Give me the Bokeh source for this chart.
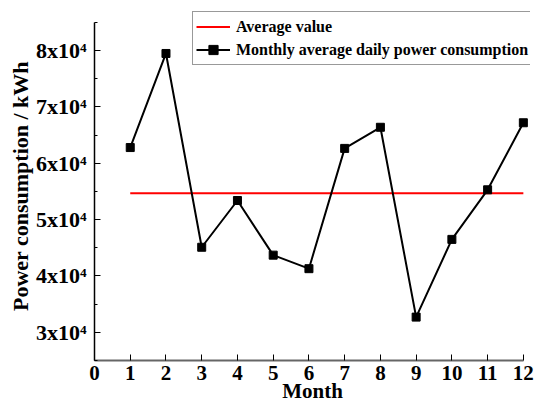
from bokeh.plotting import figure
from bokeh.models import FixedTicker, Legend, LegendItem, Range1d
from bokeh.embed import file_html
from bokeh.resources import INLINE

months = [1, 2, 3, 4, 5, 6, 7, 8, 9, 10, 11, 12]
consumption = [62800, 79500, 45100, 53400, 43700, 41300, 62650, 66400, 32700, 46500, 55300, 67200]
avg_value = 54700
avg_x = [1, 12]
y_ticks = [30000, 40000, 50000, 60000, 70000, 80000]
y_tick_labels = ["3x10\u2074", "4x10\u2074", "5x10\u2074", "6x10\u2074", "7x10\u2074", "8x10\u2074"]
y_minor = [25000, 35000, 45000, 55000, 65000, 75000, 85000]
x_ticks = list(range(0, 13))

FONT = "Liberation Serif"

# frame is a bit larger than the axes so the legend can sit above/right of the axis ends
p = figure(width=535, height=405, x_range=Range1d(0, 12.2), y_range=Range1d(25000, 86950),
           output_backend="svg", toolbar_location=None,
           min_border_left=94, min_border_right=5, min_border_top=11, min_border_bottom=45)
p.outline_line_color = None
p.xgrid.visible = False
p.ygrid.visible = False
p.background_fill_color = "white"
p.border_fill_color = "white"

r_avg = p.line(avg_x, [avg_value, avg_value], line_color="red", line_width=2)
r_line = p.line(months, consumption, line_color="black", line_width=2)
r_pts = p.scatter(months, consumption, marker="square", size=8, fill_color="black", line_color="black")

# x axis
xa = p.xaxis[0]
xa.bounds = (0, 12)
xa.ticker = FixedTicker(ticks=x_ticks)
xa.axis_label = "Month"
xa.axis_label_text_font = FONT
xa.axis_label_text_font_style = "bold"
xa.axis_label_text_font_size = "21px"
xa.axis_label_text_color = "black"
xa.axis_label_standoff = -4
xa.major_label_text_font = FONT
xa.major_label_text_font_style = "bold"
xa.major_label_text_font_size = "21px"
xa.major_label_text_color = "black"
xa.major_label_standoff = 5
xa.major_tick_in = 6
xa.major_tick_out = 0
xa.minor_tick_in = 0
xa.minor_tick_out = 0
xa.axis_line_color = "#666666"
xa.axis_line_width = 2
xa.major_tick_line_color = "black"

# y axis
ya = p.yaxis[0]
ya.bounds = (25000, 85000)
ya.ticker = FixedTicker(ticks=y_ticks, minor_ticks=y_minor)
ya.major_label_overrides = {t: l for t, l in zip(y_ticks, y_tick_labels)}
ya.axis_label = "Power consumption / kWh"
ya.axis_label_text_font = FONT
ya.axis_label_text_font_style = "bold"
ya.axis_label_text_font_size = "22px"
ya.axis_label_text_color = "black"
ya.axis_label_standoff = 0
ya.major_label_text_font = FONT
ya.major_label_text_font_style = "bold"
ya.major_label_text_font_size = "22px"
ya.major_label_text_color = "black"
ya.major_label_standoff = 8
ya.major_tick_in = 6
ya.major_tick_out = 0
ya.minor_tick_in = 3
ya.minor_tick_out = 0
ya.axis_line_color = "black"
ya.axis_line_width = 1.5

legend = Legend(items=[
    LegendItem(label="Average value", renderers=[r_avg]),
    LegendItem(label="Monthly average daily power consumption", renderers=[r_line, r_pts]),
], location=(98, 295))
legend.label_text_font = FONT
legend.label_text_font_style = "bold"
legend.label_text_font_size = "16px"
legend.label_text_color = "black"
legend.glyph_width = 34
legend.glyph_height = 23
legend.label_height = 23
legend.label_standoff = 6
legend.spacing = 0
legend.padding = 3
legend.margin = 0
legend.border_line_color = "#333333"
legend.border_line_width = 1.5
legend.background_fill_color = "white"
legend.background_fill_alpha = 1
p.add_layout(legend, "center")

open("out.html", "w").write(file_html(p, INLINE))
